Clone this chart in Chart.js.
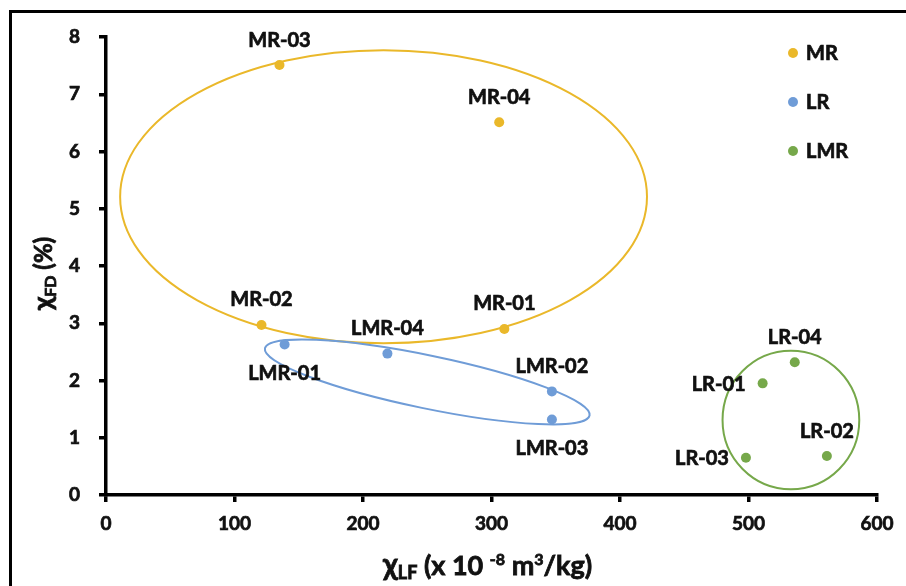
<!DOCTYPE html>
<html>
<head>
<meta charset="utf-8">
<script src="https://cdn.jsdelivr.net/npm/chart.js@4.4.1/dist/chart.umd.min.js"></script>
<style>
  html, body { margin: 0; padding: 0; background: #fff; overflow: hidden; }
  #wrap { position: relative; width: 906px; height: 586px; }
  #frame { position: absolute; left: 9px; top: 10px; width: 1000px; height: 700px;
           border: 3px solid #000; box-sizing: border-box; pointer-events: none; }
  canvas { position: absolute; left: 0; top: 0; }
</style>
</head>
<body>
<div id="wrap">
  <canvas id="chart" width="906" height="586"></canvas>
  <div id="frame"></div>
</div>
<script>
// series names as shown in the legend
const seriesNames = ['MR', 'LR', 'LMR'];
const seriesColors = ['#EAB82A', '#6F9CD7', '#76A84A'];

// yellow points (MR)
const mrLabels = ['MR-01', 'MR-02', 'MR-03', 'MR-04'];
const mrX = [310, 121, 135, 306];
const mrY = [2.90, 2.97, 7.51, 6.51];

// blue points (legend "LR", labelled LMR-xx in the plot)
const blueLabels = ['LMR-01', 'LMR-02', 'LMR-03', 'LMR-04'];
const blueX = [139, 347, 347, 219];
const blueY = [2.63, 1.81, 1.32, 2.47];

// green points (legend "LMR", labelled LR-xx in the plot)
const greenLabels = ['LR-01', 'LR-02', 'LR-03', 'LR-04'];
const greenX = [511, 561, 498, 536];
const greenY = [1.95, 0.68, 0.65, 2.32];

// where each point label sits relative to its point
const mrLabelPos = ['top', 'top', 'top', 'top'];
const blueLabelPos = ['bottom', 'top', 'bottom', 'top'];
const greenLabelPos = ['left', 'top', 'left', 'top'];

// grouping ellipses (centre and semi-axes in data units, tilt in degrees)
const ringCenterX = [216, 250, 533];
const ringCenterY = [5.21, 1.975, 1.31];
const ringRadiusX = [205, 129, 53.2];
const ringRadiusY = [2.56, 0.463, 1.21];
const ringTilt = [0, 11.7, 0];

const xTicks = [0, 100, 200, 300, 400, 500, 600];
const yTicks = [0, 1, 2, 3, 4, 5, 6, 7, 8];

const FONT = 'Lato, "Open Sans", sans-serif';
const INK = '#111';

function pts(xs, ys) { return xs.map((x, i) => ({ x: x, y: ys[i] })); }

// filled text with a hairline outline so it reads as heavy as the original
function boldText(ctx, text, x, y) {
  ctx.fillText(text, x, y);
  ctx.strokeText(text, x, y);
}

const ringsPlugin = {
  id: 'rings',
  beforeDatasetsDraw(chart) {
    const ctx = chart.ctx, xs = chart.scales.x, ys = chart.scales.y;
    const pxX = xs.getPixelForValue(1) - xs.getPixelForValue(0);
    const pxY = ys.getPixelForValue(0) - ys.getPixelForValue(1);
    ringCenterX.forEach((cx, i) => {
      ctx.save();
      ctx.beginPath();
      ctx.ellipse(xs.getPixelForValue(cx), ys.getPixelForValue(ringCenterY[i]),
        ringRadiusX[i] * pxX, ringRadiusY[i] * pxY, ringTilt[i] * Math.PI / 180, 0, Math.PI * 2);
      ctx.strokeStyle = seriesColors[i];
      ctx.lineWidth = 2;
      ctx.stroke();
      ctx.restore();
    });
  }
};

const pointLabelPlugin = {
  id: 'pointLabels',
  afterDatasetsDraw(chart) {
    const ctx = chart.ctx;
    ctx.save();
    ctx.font = 'bold 20px ' + FONT;
    ctx.fillStyle = INK;
    ctx.strokeStyle = INK;
    ctx.lineWidth = 0.7;
    chart.data.datasets.forEach((ds, di) => {
      chart.getDatasetMeta(di).data.forEach((el, i) => {
        const pos = ds.labelPos[i];
        const text = ds.pointNames[i];
        ctx.textBaseline = 'middle';
        if (pos === 'top') {
          ctx.textAlign = 'center';
          boldText(ctx, text, el.x, el.y - 25);
        } else if (pos === 'bottom') {
          ctx.textAlign = 'center';
          boldText(ctx, text, el.x, el.y + 29);
        } else {
          ctx.textAlign = 'right';
          boldText(ctx, text, el.x - 17, el.y + 1);
        }
      });
    });
    ctx.restore();
  }
};

const legendPlugin = {
  id: 'cornerLegend',
  afterDraw(chart) {
    const ctx = chart.ctx, a = chart.chartArea;
    ctx.save();
    ctx.font = 'bold 20px ' + FONT;
    ctx.textAlign = 'left';
    ctx.textBaseline = 'middle';
    ctx.strokeStyle = INK;
    ctx.lineWidth = 0.7;
    chart.data.datasets.forEach((ds, i) => {
      const x = a.right - 84, y = a.top + 16 + i * 49;
      ctx.beginPath();
      ctx.arc(x, y, 5, 0, Math.PI * 2);
      ctx.fillStyle = ds.backgroundColor;
      ctx.fill();
      ctx.fillStyle = INK;
      boldText(ctx, ds.label, x + 13, y + 1);
    });
    ctx.restore();
  }
};

// draws a line of text made of pieces with their own size and raise
function richText(ctx, parts, startX, baseY) {
  let x = startX;
  parts.forEach(p => {
    ctx.font = 'bold ' + p.size + 'px ' + FONT;
    boldText(ctx, p.t, x, baseY + (p.dy || 0));
    x += ctx.measureText(p.t).width;
  });
}

const axisTitlePlugin = {
  id: 'axisTitles',
  afterDraw(chart) {
    const ctx = chart.ctx;
    ctx.save();
    ctx.fillStyle = INK;
    ctx.strokeStyle = INK;
    ctx.lineWidth = 0.8;
    ctx.textAlign = 'left';
    ctx.textBaseline = 'alphabetic';
    richText(ctx, [
      { t: 'χ', size: 30 }, { t: 'LF', size: 18, dy: 4 },
      { t: ' (x 10 ', size: 27 }, { t: '-8', size: 16, dy: -10 },
      { t: ' m', size: 27 }, { t: '3', size: 16, dy: -10 }, { t: '/kg)', size: 27 }
    ], 383, 575);
    ctx.translate(52, 310);
    ctx.rotate(-Math.PI / 2);
    richText(ctx, [
      { t: 'χ', size: 27 }, { t: 'FD', size: 16, dy: 4 }, { t: ' (%)', size: 24 }
    ], 0, 0);
    ctx.restore();
  }
};

const tickFont = { family: FONT, weight: 'bold', size: 19 };
const axisGrid = { display: true, drawOnChartArea: false, drawTicks: true, tickLength: 7, color: '#000', lineWidth: 3.5 };

new Chart(document.getElementById('chart'), {
  type: 'scatter',
  data: {
    datasets: [
      { label: seriesNames[0], data: pts(mrX, mrY), pointNames: mrLabels, labelPos: mrLabelPos,
        backgroundColor: seriesColors[0], borderColor: seriesColors[0] },
      { label: seriesNames[1], data: pts(blueX, blueY), pointNames: blueLabels, labelPos: blueLabelPos,
        backgroundColor: seriesColors[1], borderColor: seriesColors[1] },
      { label: seriesNames[2], data: pts(greenX, greenY), pointNames: greenLabels, labelPos: greenLabelPos,
        backgroundColor: seriesColors[2], borderColor: seriesColors[2] }
    ]
  },
  options: {
    responsive: false,
    animation: false,
    elements: { point: { radius: 5, borderWidth: 0, hoverRadius: 5 } },
    layout: { padding: { top: 37, right: 29, left: 0, bottom: 0 } },
    plugins: { legend: { display: false }, tooltip: { enabled: false } },
    scales: {
      x: {
        type: 'linear', min: 0, max: 600,
        afterBuildTicks(s) { s.ticks = xTicks.map(v => ({ value: v })); },
        afterFit(s) { s.height = 91; },
        ticks: { font: tickFont, color: INK, padding: 10, maxRotation: 0, textStrokeColor: INK, textStrokeWidth: 0.7 },
        grid: axisGrid,
        border: { display: true, color: '#000', width: 3.5 }
      },
      y: {
        type: 'linear', min: 0, max: 8,
        afterBuildTicks(s) { s.ticks = yTicks.map(v => ({ value: v })); },
        afterFit(s) { s.width = 106; },
        ticks: { font: tickFont, color: INK, padding: 19, textStrokeColor: INK, textStrokeWidth: 0.7 },
        grid: axisGrid,
        border: { display: true, color: '#000', width: 3.5 }
      }
    }
  },
  plugins: [ringsPlugin, pointLabelPlugin, legendPlugin, axisTitlePlugin]
});
</script>
</body>
</html>
